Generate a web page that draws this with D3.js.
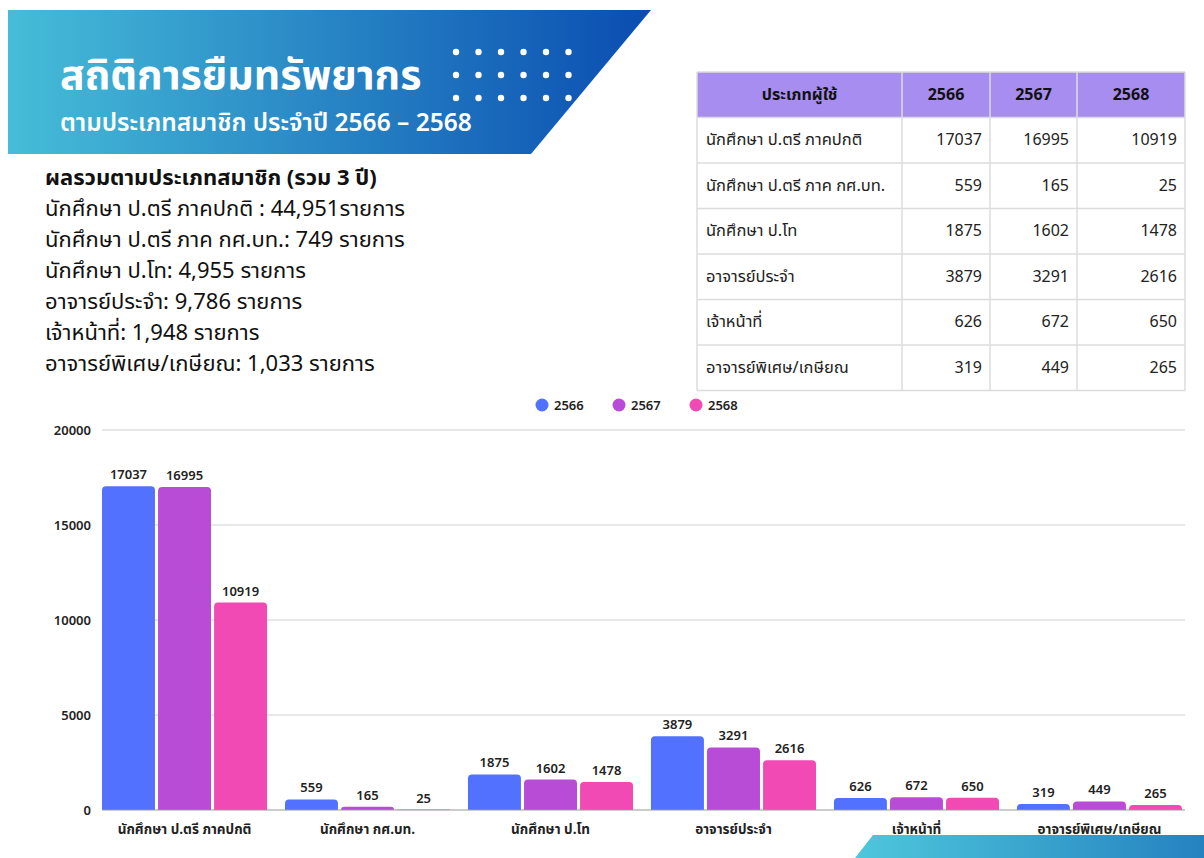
<!DOCTYPE html>
<html>
<head>
<meta charset="utf-8">
<script src="https://cdn.jsdelivr.net/npm/d3@7"></script>
<style>
  body { margin: 0; background: #fff; }
  svg { display: block; }
</style>
</head>
<body>
<div id="chart-container"></div>
<script>
// data
const years = ["2566", "2567", "2568"];
const categories = ["นักศึกษา ป.ตรี ภาคปกติ", "นักศึกษา กศ.บท.", "นักศึกษา ป.โท", "อาจารย์ประจำ", "เจ้าหน้าที่", "อาจารย์พิเศษ/เกษียณ"];
const tableLabels = ["นักศึกษา ป.ตรี ภาคปกติ", "นักศึกษา ป.ตรี ภาค กศ.บท.", "นักศึกษา ป.โท", "อาจารย์ประจำ", "เจ้าหน้าที่", "อาจารย์พิเศษ/เกษียณ"];
const values2566 = [17037, 559, 1875, 3879, 626, 319];
const values2567 = [16995, 165, 1602, 3291, 672, 449];
const values2568 = [10919, 25, 1478, 2616, 650, 265];
const yTicks = [0, 5000, 10000, 15000, 20000];
const summaryTitle = "ผลรวมตามประเภทสมาชิก (รวม 3 ปี)";
const summaryLines = [
  "นักศึกษา ป.ตรี ภาคปกติ : 44,951รายการ",
  "นักศึกษา ป.ตรี ภาค กศ.บท.: 749 รายการ",
  "นักศึกษา ป.โท: 4,955 รายการ",
  "อาจารย์ประจำ: 9,786 รายการ",
  "เจ้าหน้าที่: 1,948 รายการ",
  "อาจารย์พิเศษ/เกษียณ: 1,033 รายการ"
];
const title = "สถิติการยืมทรัพยากร";
const subtitle = "ตามประเภทสมาชิก ประจำปี 2566 – 2568";

const series = [values2566, values2567, values2568];
const colors = ["#5271ff", "#b84cd6", "#f24ab4"];
const font = "'Noto Sans Thai', 'Noto Sans', Inter, sans-serif";

const W = 1204, H = 858;
const svg = d3.select("#chart-container")
  .append("svg")
    .attr("width", W)
    .attr("height", H)
    .style("font-family", font);

const defs = svg.append("defs");
const grad = defs.append("linearGradient").attr("id", "bannerGrad")
  .attr("x1", "0%").attr("x2", "100%").attr("y1", "0%").attr("y2", "0%");
grad.append("stop").attr("offset", "0%").attr("stop-color", "#46bdd8");
grad.append("stop").attr("offset", "100%").attr("stop-color", "#0a4db1");
const grad2 = defs.append("linearGradient").attr("id", "cornerGrad")
  .attr("x1", "0%").attr("x2", "100%").attr("y1", "0%").attr("y2", "0%");
grad2.append("stop").attr("offset", "0%").attr("stop-color", "#4ec7dc");
grad2.append("stop").attr("offset", "100%").attr("stop-color", "#2582c0");

//header banner
svg.append("path")
  .attr("d", "M8,10 L651,10 L531,154 L8,154 Z")
  .attr("fill", "url(#bannerGrad)");

svg.append("text")
  .attr("x", 60).attr("y", 89)
  .attr("fill", "#fff")
  .style("font-size", "41px")
  .style("font-weight", "700")
  .text(title);

svg.append("text")
  .attr("x", 60).attr("y", 131)
  .attr("fill", "#fff")
  .style("font-size", "24.5px")
  .style("font-weight", "600")
  .text(subtitle);

const dots = svg.append("g");
for (let r = 0; r < 3; r++) {
  for (let c = 0; c < 6; c++) {
    dots.append("circle")
      .attr("cx", 456 + c * 22.5)
      .attr("cy", 52 + r * 23)
      .attr("r", 3.2)
      .attr("fill", "#fff");
  }
}

//summary text
svg.append("text")
  .attr("x", 45).attr("y", 185)
  .attr("fill", "#111")
  .style("font-size", "22px")
  .style("font-weight", "700")
  .text(summaryTitle);

svg.append("g").selectAll("text")
  .data(summaryLines)
  .join("text")
    .attr("x", 45)
    .attr("y", (d, i) => 216 + i * 31)
    .attr("fill", "#111")
    .style("font-size", "22px")
    .text(d => d);

//table
const colX = [697, 902, 990, 1077, 1185];
const rowH = 45.5;
const tTop = 72;
const table = svg.append("g");
table.append("rect")
  .attr("x", colX[0]).attr("y", tTop)
  .attr("width", colX[4] - colX[0]).attr("height", rowH)
  .attr("fill", "#a78df0");

const headers = ["ประเภทผู้ใช้"].concat(years);
headers.forEach((h, i) => {
  table.append("text")
    .attr("x", (colX[i] + colX[i + 1]) / 2)
    .attr("y", tTop + rowH / 2 + 5)
    .attr("text-anchor", "middle")
    .attr("fill", "#111")
    .style("font-size", "16px")
    .style("font-weight", "700")
    .text(h);
});

tableLabels.forEach((lab, r) => {
  const y = tTop + rowH * (r + 1);
  table.append("text")
    .attr("x", colX[0] + 9)
    .attr("y", y + rowH / 2 + 5)
    .attr("fill", "#222")
    .style("font-size", "16.5px")
    .text(lab);
  series.forEach((s, j) => {
    table.append("text")
      .attr("x", colX[j + 2] - 8)
      .attr("y", y + rowH / 2 + 5)
      .attr("text-anchor", "end")
      .attr("fill", "#222")
      .style("font-size", "16px")
      .text(s[r]);
  });
});

//table grid lines
for (let r = 0; r <= tableLabels.length + 1; r++) {
  table.append("line")
    .attr("x1", colX[0]).attr("x2", colX[4])
    .attr("y1", tTop + r * rowH).attr("y2", tTop + r * rowH)
    .attr("stroke", "#dcdcdc").attr("stroke-width", 1.5);
}
colX.forEach(x => {
  table.append("line")
    .attr("x1", x).attr("x2", x)
    .attr("y1", tTop).attr("y2", tTop + rowH * (tableLabels.length + 1))
    .attr("stroke", "#dcdcdc").attr("stroke-width", 1.5);
});

//bar chart
const x0 = d3.scaleBand()
  .domain(categories)
  .range([102, 1182])
  .paddingInner(0.098)
  .paddingOuter(0);

const x1 = d3.scaleBand()
  .domain(years)
  .range([0, x0.bandwidth()])
  .paddingInner(0.055)
  .paddingOuter(0);

const y = d3.scaleLinear().domain([0, 20000]).range([810, 430]);

const grid = svg.append("g");
grid.selectAll("line")
  .data(yTicks.filter(d => d > 0))
  .join("line")
    .attr("x1", 102).attr("x2", 1185)
    .attr("y1", d => y(d)).attr("y2", d => y(d))
    .attr("stroke", "#cfcfcf")
    .attr("stroke-width", 1.2);

const yAxis = svg.append("g")
  .attr("transform", "translate(91,0)")
  .call(d3.axisLeft(y).tickValues(yTicks).tickFormat(d3.format("d")).tickSize(0).tickPadding(0));
yAxis.select(".domain").remove();
yAxis.selectAll("text")
  .style("font-family", font)
  .style("font-size", "13px")
  .style("font-weight", "600")
  .attr("fill", "#222");

const rounded = (x, yTop, w, h, r) => {
  r = Math.min(r, h, w / 2);
  return `M${x},${yTop + h} L${x},${yTop + r} Q${x},${yTop} ${x + r},${yTop} L${x + w - r},${yTop} Q${x + w},${yTop} ${x + w},${yTop + r} L${x + w},${yTop + h} Z`;
};

const barData = [];
categories.forEach((c, i) => {
  years.forEach((yr, j) => {
    barData.push({cat: c, year: yr, value: series[j][i], color: colors[j]});
  });
});

svg.append("g").selectAll("path")
  .data(barData)
  .join("path")
    .attr("d", d => {
      const bx = x0(d.cat) + x1(d.year);
      return rounded(bx, y(d.value), x1.bandwidth(), y(0) - y(d.value), 4);
    })
    .attr("fill", d => d.color);

svg.append("g").selectAll("text")
  .data(barData)
  .join("text")
    .attr("x", d => x0(d.cat) + x1(d.year) + x1.bandwidth() / 2)
    .attr("y", d => y(d.value) - 7)
    .attr("text-anchor", "middle")
    .attr("fill", "#222")
    .style("font-size", "13px")
    .style("font-weight", "600")
    .text(d => d.value);

//baseline
svg.append("line")
  .attr("x1", 102).attr("x2", 1185)
  .attr("y1", y(0)).attr("y2", y(0))
  .attr("stroke", "#9a9a9a")
  .attr("stroke-width", 1.2);

const xAxis = svg.append("g")
  .attr("transform", `translate(0,${y(0)})`)
  .call(d3.axisBottom(x0).tickSize(0).tickPadding(14));
xAxis.select(".domain").remove();
xAxis.selectAll("text")
  .style("font-family", font)
  .style("font-size", "13.5px")
  .style("font-weight", "700")
  .attr("fill", "#222");

//legend
const legend = svg.append("g");
years.forEach((yr, i) => {
  const lx = 542 + i * 77;
  legend.append("circle")
    .attr("cx", lx).attr("cy", 405).attr("r", 6.5)
    .attr("fill", colors[i]);
  legend.append("text")
    .attr("x", lx + 12).attr("y", 410)
    .attr("fill", "#222")
    .style("font-size", "13px")
    .style("font-weight", "600")
    .text(yr);
});

//corner decoration
svg.append("path")
  .attr("d", "M873,835 L1204,835 L1204,858 L855,858 Z")
  .attr("fill", "url(#cornerGrad)");
</script>
</body>
</html>
